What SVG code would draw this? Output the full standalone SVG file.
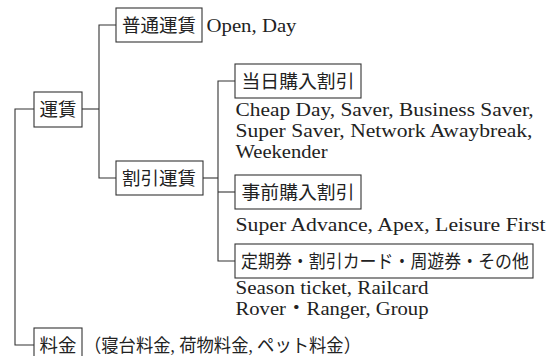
<svg xmlns="http://www.w3.org/2000/svg" width="556" height="356" viewBox="0 0 556 356">
<style>
.box{fill:#fff;stroke:#333;stroke-width:1.1}
.con{fill:none;stroke:#333;stroke-width:1.1}
.jp{font-family:"Liberation Serif","Noto Sans CJK JP",serif;font-size:18.5px;fill:#222;dominant-baseline:central;text-anchor:middle}
.en{font-family:"Liberation Serif","Noto Sans CJK JP",serif;font-size:19px;fill:#222}
</style>
<rect width="556" height="356" fill="#fff"/>
<g id="connectors">
<path class="con" d="M34 109H15V345H34"/>
<path class="con" d="M82 109H99"/>
<path class="con" d="M116 25H99V178H116"/>
<path class="con" d="M203 178H218"/>
<path class="con" d="M235 81H218V261H235"/>
<path class="con" d="M218 192H235"/>
</g>
<g id="unchin">
<rect class="box" x="34" y="92" width="48" height="35"/>
<text class="jp" x="58" y="109.5" textLength="37" lengthAdjust="spacingAndGlyphs">運賃</text>
</g>
<g id="futsu">
<rect class="box" x="116" y="8" width="86" height="34"/>
<text class="jp" x="159" y="25.5" textLength="74" lengthAdjust="spacingAndGlyphs">普通運賃</text>
<text class="en" x="206.5" y="32" textLength="90" lengthAdjust="spacingAndGlyphs">Open, Day</text>
</g>
<g id="waribiki">
<rect class="box" x="116" y="161" width="87" height="34"/>
<text class="jp" x="159" y="178.5" textLength="74" lengthAdjust="spacingAndGlyphs">割引運賃</text>
</g>
<g id="toujitsu">
<rect class="box" x="235" y="64" width="126" height="34"/>
<text class="jp" x="298" y="81.5" textLength="113" lengthAdjust="spacingAndGlyphs">当日購入割引</text>
<text class="en" x="235.5" y="116" textLength="298" lengthAdjust="spacingAndGlyphs">Cheap Day, Saver, Business Saver,</text>
<text class="en" x="235.5" y="137" textLength="297" lengthAdjust="spacingAndGlyphs">Super Saver, Network Awaybreak,</text>
<text class="en" x="235.5" y="158" textLength="92" lengthAdjust="spacingAndGlyphs">Weekender</text>
</g>
<g id="jizen">
<rect class="box" x="235" y="175" width="126" height="34"/>
<text class="jp" x="298" y="192.5" textLength="113" lengthAdjust="spacingAndGlyphs">事前購入割引</text>
<text class="en" x="235.5" y="231" textLength="310" lengthAdjust="spacingAndGlyphs">Super Advance, Apex, Leisure First</text>
</g>
<g id="teiki">
<rect class="box" x="235" y="244" width="298" height="34"/>
<text class="jp" x="385" y="261.5" textLength="288" lengthAdjust="spacingAndGlyphs">定期券・割引カード・周遊券・その他</text>
<text class="en" x="235.5" y="294" textLength="193" lengthAdjust="spacingAndGlyphs">Season ticket, Railcard</text>
<text class="en" x="235.5" y="315" textLength="193" lengthAdjust="spacingAndGlyphs">Rover・Ranger, Group</text>
</g>
<g id="ryokin">
<rect class="box" x="34" y="328" width="48" height="35"/>
<text class="jp" x="58" y="345.5" textLength="37" lengthAdjust="spacingAndGlyphs">料金</text>
<text class="jp" x="84" y="345.5" style="text-anchor:start" textLength="277" lengthAdjust="spacingAndGlyphs">（寝台料金, 荷物料金, ペット料金）</text>
</g>
</svg>
